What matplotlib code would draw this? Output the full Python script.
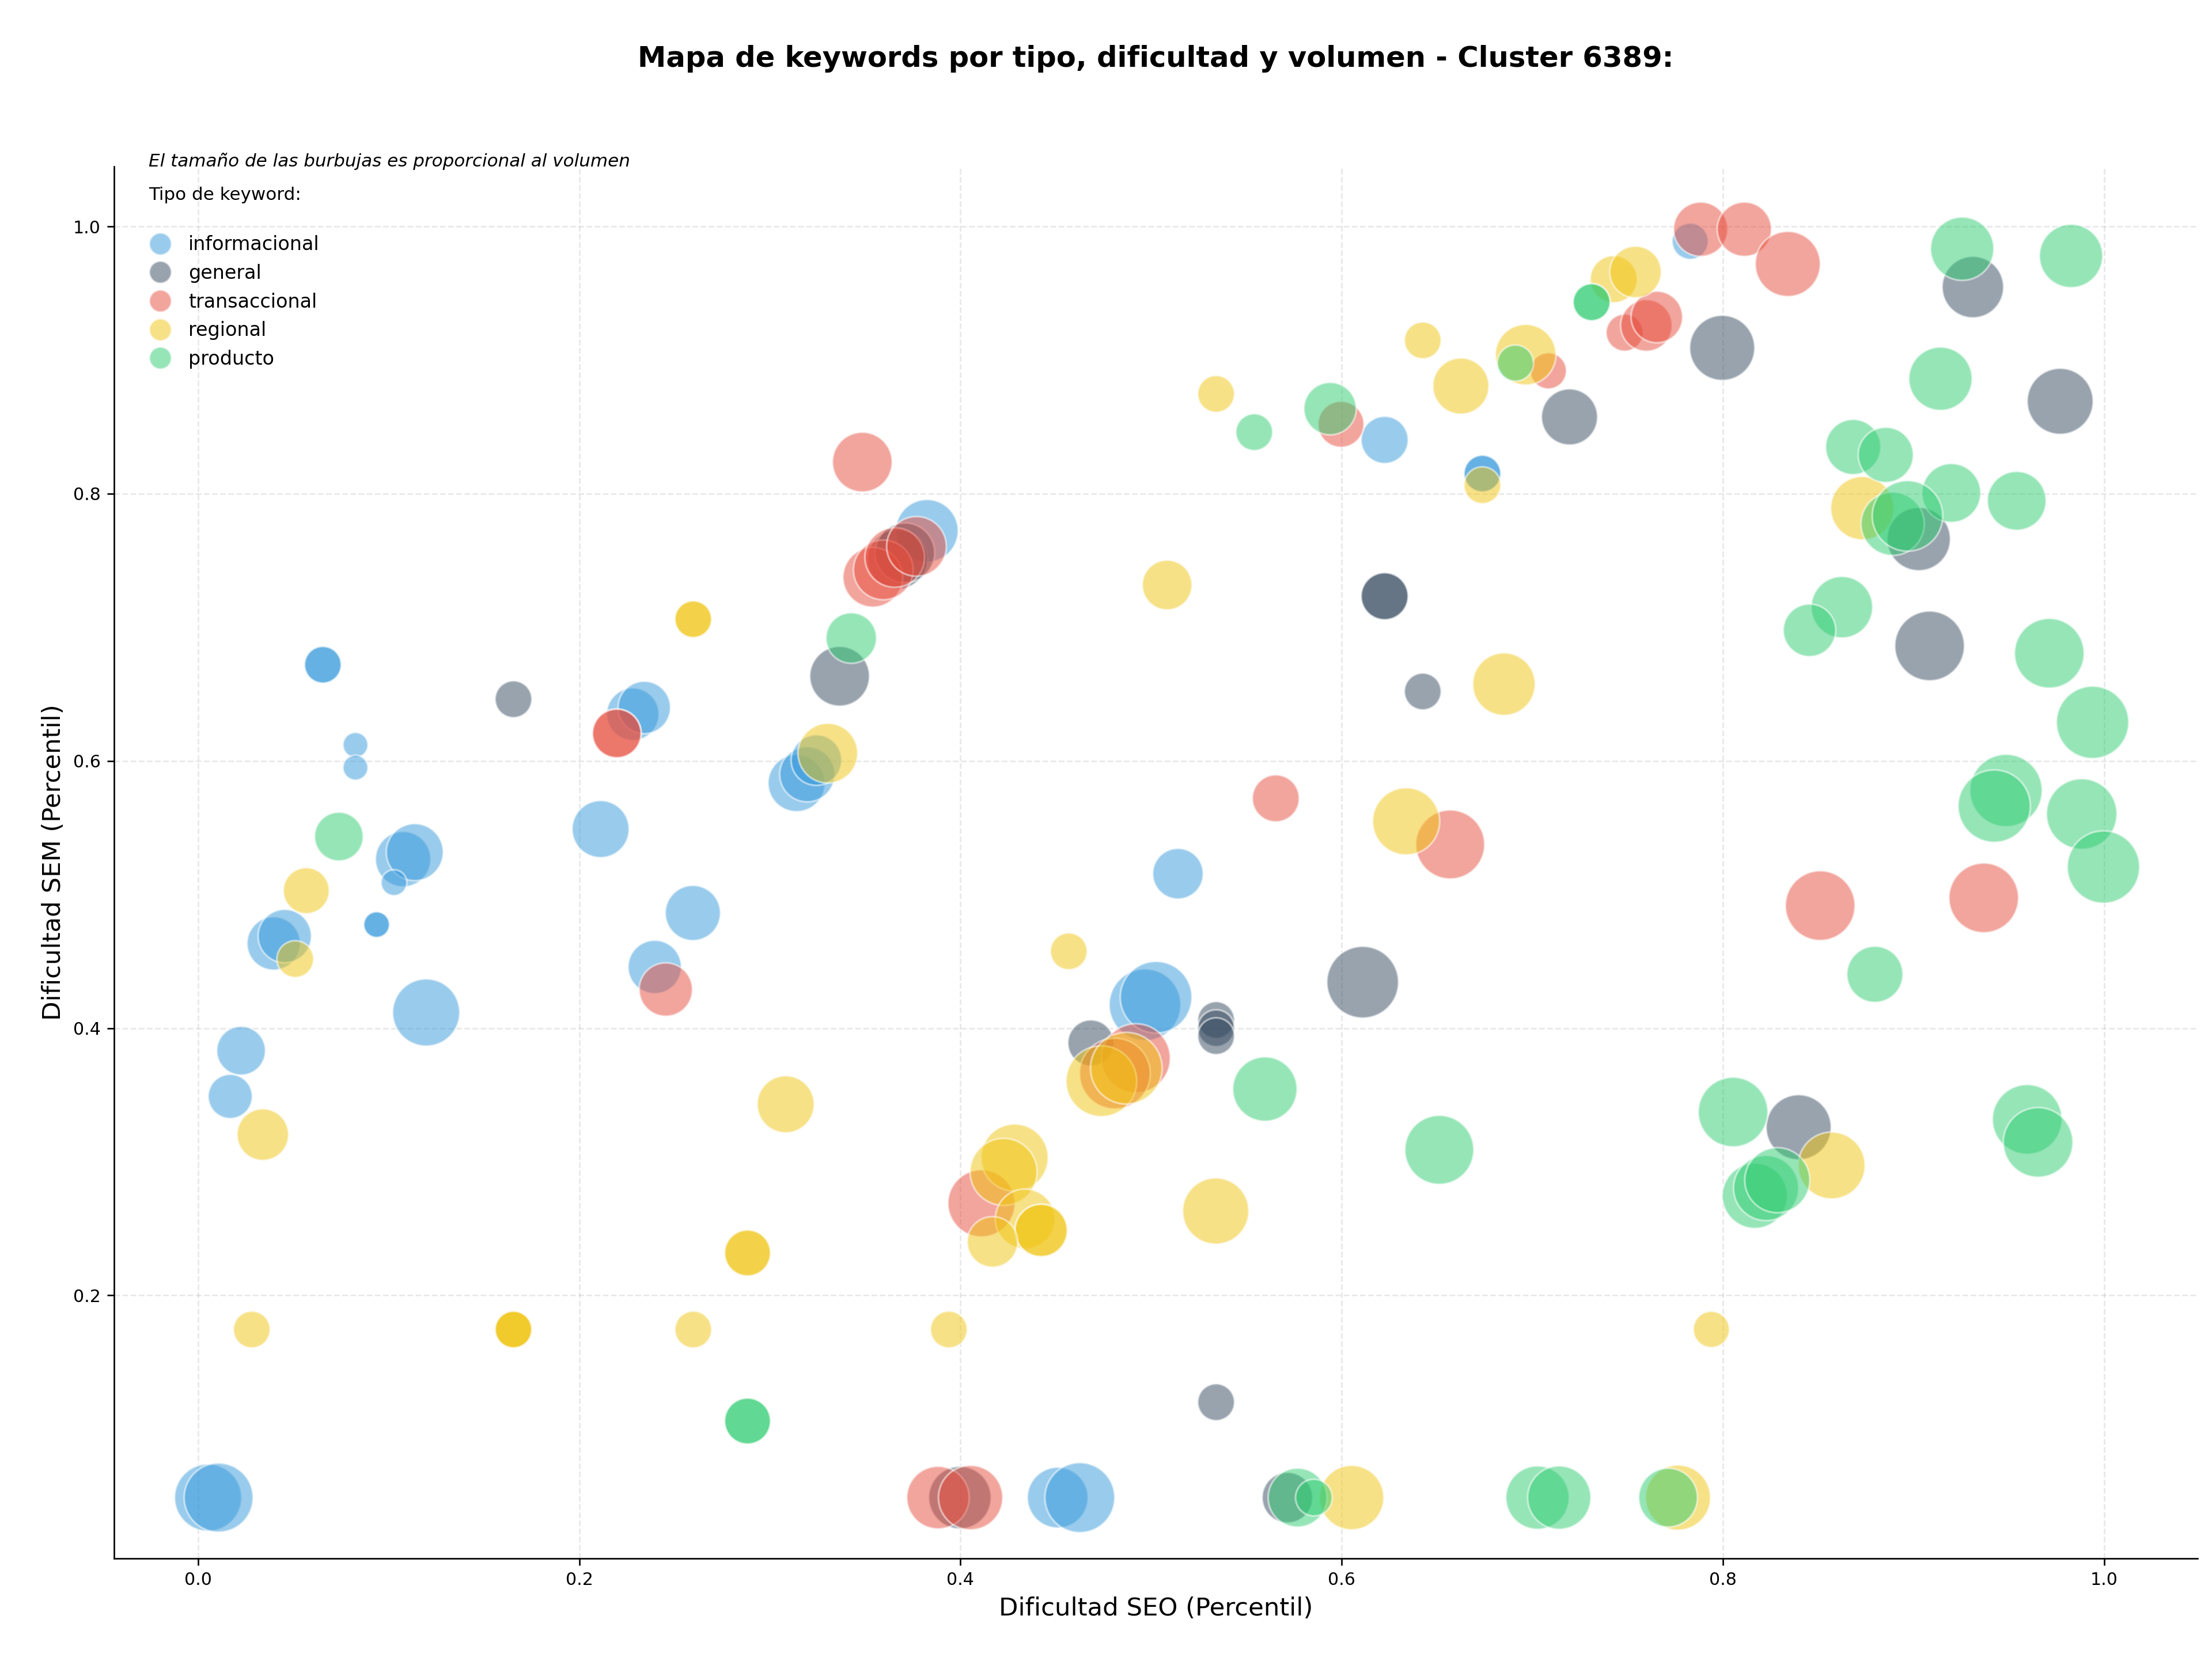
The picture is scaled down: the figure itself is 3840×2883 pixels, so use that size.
import matplotlib.pyplot as plt
from matplotlib.lines import Line2D

# Dificultad SEO / SEM (percentil) y volumen estimado por tipo de keyword
info_seo = [0.0655, 0.0655, 0.0826, 0.0826, 0.2281, 0.2341, 0.1076, 0.1137, 0.2112, 0.314,
            0.3196, 0.3244, 0.3824, 0.6225, 0.6738, 0.6738, 0.7828, 0.5141, 0.4968, 0.5026,
            0.1028, 0.0937, 0.0937, 0.0397, 0.0455, 0.1197, 0.0226, 0.0169, 0.2596, 0.2396,
            0.0053, 0.0108, 0.451, 0.4626]
info_sem = [0.672, 0.672, 0.612, 0.595, 0.635, 0.640, 0.5265, 0.5317, 0.549, 0.5834,
            0.590, 0.6006, 0.7723, 0.8403, 0.8151, 0.8151, 0.989, 0.5156, 0.4175, 0.4231,
            0.5089, 0.4775, 0.4775, 0.4634, 0.4689, 0.4117, 0.3831, 0.3489, 0.4862, 0.4458,
            0.0486, 0.0486, 0.0486, 0.0486]
info_vol = [183, 183, 84, 84, 372, 372, 415, 440, 440, 440,
            412, 346, 529, 300, 183, 183, 177, 346, 696, 696,
            90, 90, 90, 385, 385, 610, 321, 264, 412, 385,
            610, 644, 499, 661]

gen_seo = [0.1655, 0.367, 0.3708, 0.3366, 0.6225, 0.6225, 0.6425, 0.7996, 0.7195, 0.9311,
           0.9769, 0.9027, 0.9084, 0.8397, 0.4684, 0.5341, 0.5341, 0.5341, 0.611, 0.5341,
           0.3997, 0.5715]
gen_sem = [0.6462, 0.751, 0.7558, 0.6634, 0.7233, 0.7233, 0.652, 0.9092, 0.8575, 0.9547,
           0.8692, 0.7661, 0.6861, 0.3258, 0.3889, 0.4061, 0.400, 0.394, 0.4344, 0.120,
           0.0486, 0.0486]
gen_vol = [183, 483, 483, 483, 300, 300, 183, 574, 426, 512,
           590, 543, 657, 574, 287, 183, 183, 183, 696, 183,
           529, 346]

trans_seo = [0.2197, 0.2197, 0.3485, 0.354, 0.3595, 0.3655, 0.3769, 0.5996, 0.7084, 0.7883,
             0.8112, 0.834, 0.7484, 0.7598, 0.7653, 0.5654, 0.6569, 0.851, 0.9368, 0.2454,
             0.492, 0.481, 0.411, 0.3882, 0.4053]
trans_sem = [0.6206, 0.6206, 0.8237, 0.7375, 0.743, 0.7523, 0.7606, 0.852, 0.892, 0.998,
             0.998, 0.972, 0.9206, 0.926, 0.9323, 0.572, 0.5375, 0.4917, 0.4975, 0.4289,
             0.3775, 0.366, 0.2689, 0.0486, 0.0486]
trans_vol = [321, 321, 483, 483, 483, 483, 483, 286, 177, 399,
             399, 574, 186, 360, 360, 298, 644, 657, 657, 385,
             644, 678, 610, 529, 561]

reg_seo = [0.2598, 0.2598, 0.3304, 0.5341, 0.6425, 0.6625, 0.6965, 0.6738, 0.5084, 0.6851,
           0.6338, 0.7427, 0.7541, 0.8731, 0.857, 0.7939, 0.7764, 0.0568, 0.051, 0.034,
           0.3083, 0.2883, 0.2883, 0.0282, 0.1655, 0.1655, 0.1655, 0.2598, 0.4568, 0.4739,
           0.487, 0.4284, 0.4226, 0.4339, 0.4423, 0.4423, 0.4168, 0.5339, 0.3939, 0.6052]
reg_sem = [0.7061, 0.7061, 0.6058, 0.8747, 0.9148, 0.8806, 0.9041, 0.8064, 0.7317, 0.6575,
           0.5548, 0.9606, 0.966, 0.7892, 0.2972, 0.1745, 0.0486, 0.5029, 0.4517, 0.3203,
           0.343, 0.2317, 0.2317, 0.1744, 0.1744, 0.1744, 0.1744, 0.1744, 0.4575, 0.3603,
           0.370, 0.3031, 0.2924, 0.2572, 0.2486, 0.2486, 0.240, 0.2631, 0.1744, 0.0486]
reg_vol = [183, 183, 483, 183, 183, 426, 497, 183, 334, 529,
           610, 300, 360, 543, 606, 177, 574, 286, 183, 360,
           440, 286, 286, 183, 183, 183, 183, 183, 183, 678,
           696, 610, 610, 483, 372, 372, 346, 593, 183, 561]

prod_seo = [0.0739, 0.3427, 0.5541, 0.5939, 0.6911, 0.7311, 0.7311, 0.9255, 0.9826, 0.9141,
            0.8683, 0.8854, 0.9198, 0.9541, 0.889, 0.8968, 0.8624, 0.8454, 0.9712, 0.9939,
            0.9485, 0.9423, 0.9882, 0.9996, 0.8797, 0.8053, 0.8167, 0.8226, 0.8285, 0.9596,
            0.9653, 0.7027, 0.7141, 0.7712, 0.5597, 0.6512, 0.2883, 0.2883, 0.5768, 0.5854]
prod_sem = [0.5434, 0.692, 0.8461, 0.8637, 0.8978, 0.9434, 0.9434, 0.9834, 0.978, 0.8861,
            0.835, 0.8291, 0.8006, 0.7947, 0.7775, 0.7834, 0.7151, 0.6978, 0.6806, 0.6289,
            0.5779, 0.5662, 0.5603, 0.5206, 0.4403, 0.3372, 0.2745, 0.2803, 0.2862, 0.3317,
            0.3145, 0.0486, 0.0486, 0.0486, 0.3544, 0.3089, 0.1059, 0.1059, 0.0486, 0.0486]
prod_vol = [321, 346, 183, 372, 177, 186, 186, 543, 543, 543,
            412, 412, 468, 468, 543, 674, 512, 373, 657, 709,
            709, 709, 674, 709, 426, 657, 574, 574, 574, 657,
            657, 543, 543, 468, 561, 644, 286, 286, 469, 183]

tipos = ['informacional', 'general', 'transaccional', 'regional', 'producto']
colores = ['#3498db', '#34495e', '#e74c3c', '#f1c40f', '#2ecc71']
series = [(info_seo, info_sem, info_vol),
          (gen_seo, gen_sem, gen_vol),
          (trans_seo, trans_sem, trans_vol),
          (reg_seo, reg_sem, reg_vol),
          (prod_seo, prod_sem, prod_vol)]

fig = plt.figure(figsize=(16, 12.0125), dpi=240)
ax = fig.add_axes([0.0516, 0.0617, 0.9419, 0.8381])

for (seo, sem, vol), color in zip(series, colores):
    ax.scatter(seo, sem, s=[v * 2 for v in vol], c=color, alpha=0.5,
               edgecolors='white', linewidths=1)

ax.set_xlim(-0.044, 1.049)
ax.set_ylim(0.003, 1.045)
ax.set_axisbelow(True)
ax.grid(True, linestyle='--', alpha=0.3)
ax.spines['top'].set_visible(False)
ax.spines['right'].set_visible(False)
ax.tick_params(labelsize=9)

ax.set_xlabel('Dificultad SEO (Percentil)', fontsize=13)
ax.set_ylabel('Dificultad SEM (Percentil)', fontsize=13)
ax.set_title('Mapa de keywords por tipo, dificultad y volumen - Cluster 6389:',
             fontsize=14.9, fontweight='bold', pad=52)

ax.text(0.0166, 1.0037, 'El tamaño de las burbujas es proporcional al volumen',
        transform=ax.transAxes, fontsize=9.3, style='italic', va='center')
ax.text(0.0166, 0.9794, 'Tipo de keyword:', transform=ax.transAxes,
        fontsize=9.3, va='center')

handles = [Line2D([], [], marker='o', linestyle='', markersize=11.5,
                  markerfacecolor=c, markeredgecolor='white', alpha=0.5)
           for c in colores]
ax.legend(handles, tipos, loc='upper left', bbox_to_anchor=(0.0047, 0.963),
          frameon=False, fontsize=10, handletextpad=0.45)

fig.savefig('out.png', dpi=240)
